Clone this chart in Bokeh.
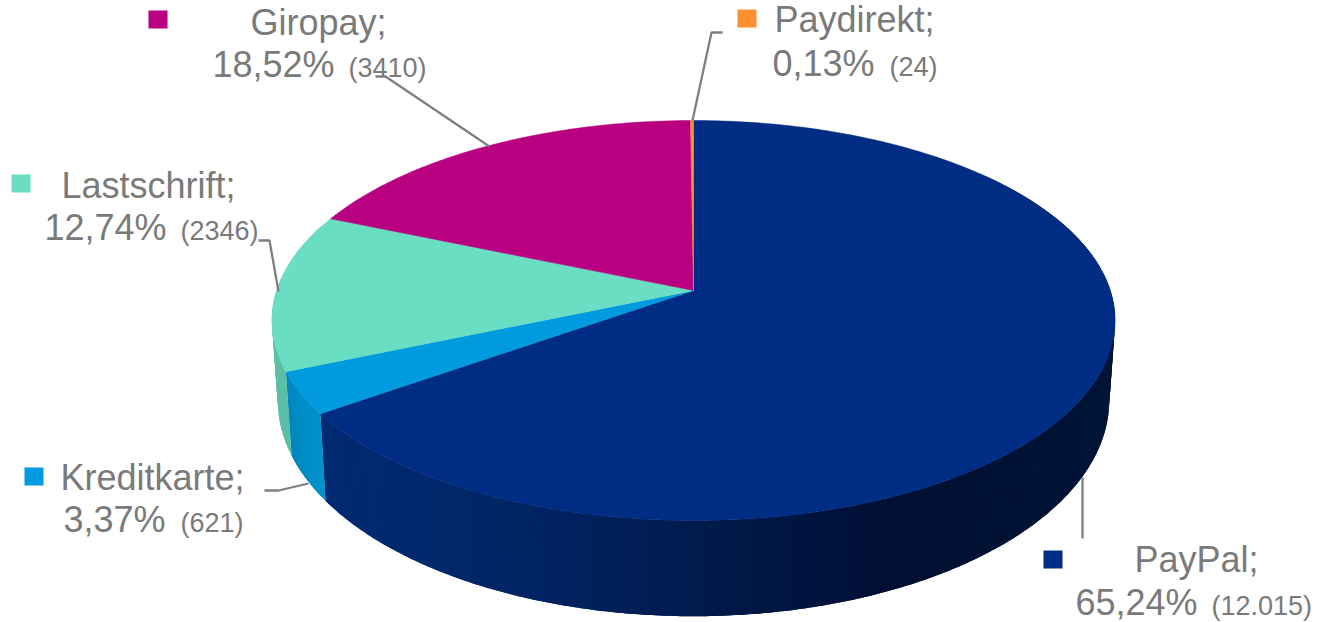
import numpy as np
from bokeh.plotting import figure
from bokeh.models import Range1d
from bokeh.core.properties import value
from bokeh.embed import file_html
from bokeh.resources import INLINE

categories = ["PayPal", "Kreditkarte", "Lastschrift", "Giropay", "Paydirekt"]
percents = [65.24, 3.37, 12.74, 18.52, 0.13]
counts = ["(12.015)", "(621)", "(2346)", "(3410)", "(24)"]
colors = ["#002d84", "#009bde", "#69dec3", "#b80080", "#ff8f33"]

# Layout, in reference pixels
PX = 693.0
TOP = dict(a=416.8, b=195.5, k=0.15, y0=290.0)
BOT = dict(a=411.0, b=211.0, k=0.15, y0=367.5)
label_pos = {  # name line (x, baseline), percent line (x, baseline), count x
    "Giropay": (250, 35, 212, 77, 348),
    "Lastschrift": (61, 198, 44, 240, 180),
    "Kreditkarte": (60, 490, 63, 532, 180),
    "Paydirekt": (774, 32, 772, 76, 889),
    "PayPal": (1134, 572, 1075, 615, 1211),
}
key_pos = {
    "Giropay": (148, 10),
    "Lastschrift": (11, 174),
    "Kreditkarte": (24, 467),
    "Paydirekt": (737, 9),
    "PayPal": (1043, 550),
}
leaders = [
    ([375, 385, 489], [76, 76, 146]),
    ([258, 269, 278], [240, 240, 291]),
    ([264, 278, 308], [490, 490, 483]),
    ([722, 711, 692], [32, 32, 120]),
    ([1082, 1082], [477, 538]),
]
side_stops_x = [320, 450, 600, 700, 850, 885, 1000, 1115]
side_stops_rgb = [(0, 42, 114), (1, 39, 106), (0, 32, 90), (0, 27, 76),
                  (0, 17, 58), (0, 15, 51), (0, 18, 51), (0, 20, 54)]


def project(theta_deg, plane):
    t = np.radians(theta_deg)
    u, v = np.sin(t), np.cos(t)
    d = 1 + plane["k"] * v
    return PX + plane["a"] * u / d, plane["y0"] - plane["b"] * v / d


p = figure(width=1319, height=622, output_backend="svg", toolbar_location=None,
           x_range=Range1d(0, 1319), y_range=Range1d(622, 0),
           min_border=0, background_fill_color="white", border_fill_color="white")
p.xaxis.visible = False
p.yaxis.visible = False
p.grid.visible = False
p.outline_line_color = None

edges = np.concatenate([[0], np.cumsum(percents)]) * 3.6

# Side wall: overlapping quads, shaded by position
qx, qy, qc = [], [], []
side_colors = {"Kreditkarte": ((0, 134, 188), (0, 146, 204)), "Lastschrift": ((92, 191, 165), (92, 191, 165))}
step = 1.0
for i, name in enumerate(categories):
    lo, hi = max(edges[i], 50), min(edges[i + 1], 290)
    if hi <= lo:
        continue
    for t0 in np.arange(lo, hi, step):
        t1 = min(t0 + 2 * step, hi)
        xt, yt = project(np.linspace(t0, t1, 5), TOP)
        xb, yb = project(np.linspace(t1, t0, 5), BOT)
        xm = float(project(t0 + step / 2, TOP)[0])
        if name == "PayPal":
            rgb = [np.interp(xm, side_stops_x, [c[j] for c in side_stops_rgb]) for j in range(3)]
        else:
            c0, c1 = side_colors[name]
            f = (t0 - lo) / max(hi - lo, 1e-6)
            rgb = [c0[j] + (c1[j] - c0[j]) * (1 - f) for j in range(3)]
        qx.append(list(xt) + list(xb))
        qy.append(list(yt) + list(yb))
        qc.append("#%02x%02x%02x" % tuple(int(round(c)) for c in rgb))
p.patches(qx, qy, fill_color=qc, line_color=None)

# Top face
wx, wy = [], []
for i in range(len(categories)):
    th = np.linspace(edges[i], edges[i + 1], max(3, int(percents[i] * 6)))
    x, y = project(th, TOP)
    wx.append([PX] + list(x))
    wy.append([TOP["y0"]] + list(y))
p.patches(wx, wy, fill_color=colors, line_color=colors, line_width=0.5)

# Leader lines
p.multi_line([l[0] for l in leaders], [l[1] for l in leaders], line_color="#7f7f7f", line_width=2.3)

# Legend keys
kx = [key_pos[c][0] for c in categories]
ky = [key_pos[c][1] for c in categories]
p.quad(left=kx, right=[x + 19 for x in kx], top=ky, bottom=[y + 18 for y in ky],
       fill_color=colors, line_color=None)

# Texts
grey = "#7a7a7a"
font = value("Liberation Sans")
n = categories
p.text([label_pos[c][0] for c in n], [label_pos[c][1] for c in n], text=[c + ";" for c in n],
       text_font=font, text_font_size=value("36px"), text_color=grey, text_baseline="alphabetic", y_offset=-13)
p.text([label_pos[c][2] for c in n], [label_pos[c][3] for c in n],
       text=[f"{v:.2f}%".replace(".", ",") for v in percents],
       text_font=font, text_font_size=value("36px"), text_color=grey, text_baseline="alphabetic", y_offset=-13)
p.text([label_pos[c][4] for c in n], [label_pos[c][3] for c in n], text=counts,
       text_font=font, text_font_size=value("27px"), text_color=grey, text_baseline="alphabetic", y_offset=-10)

open("out.html", "w").write(file_html(p, INLINE))
